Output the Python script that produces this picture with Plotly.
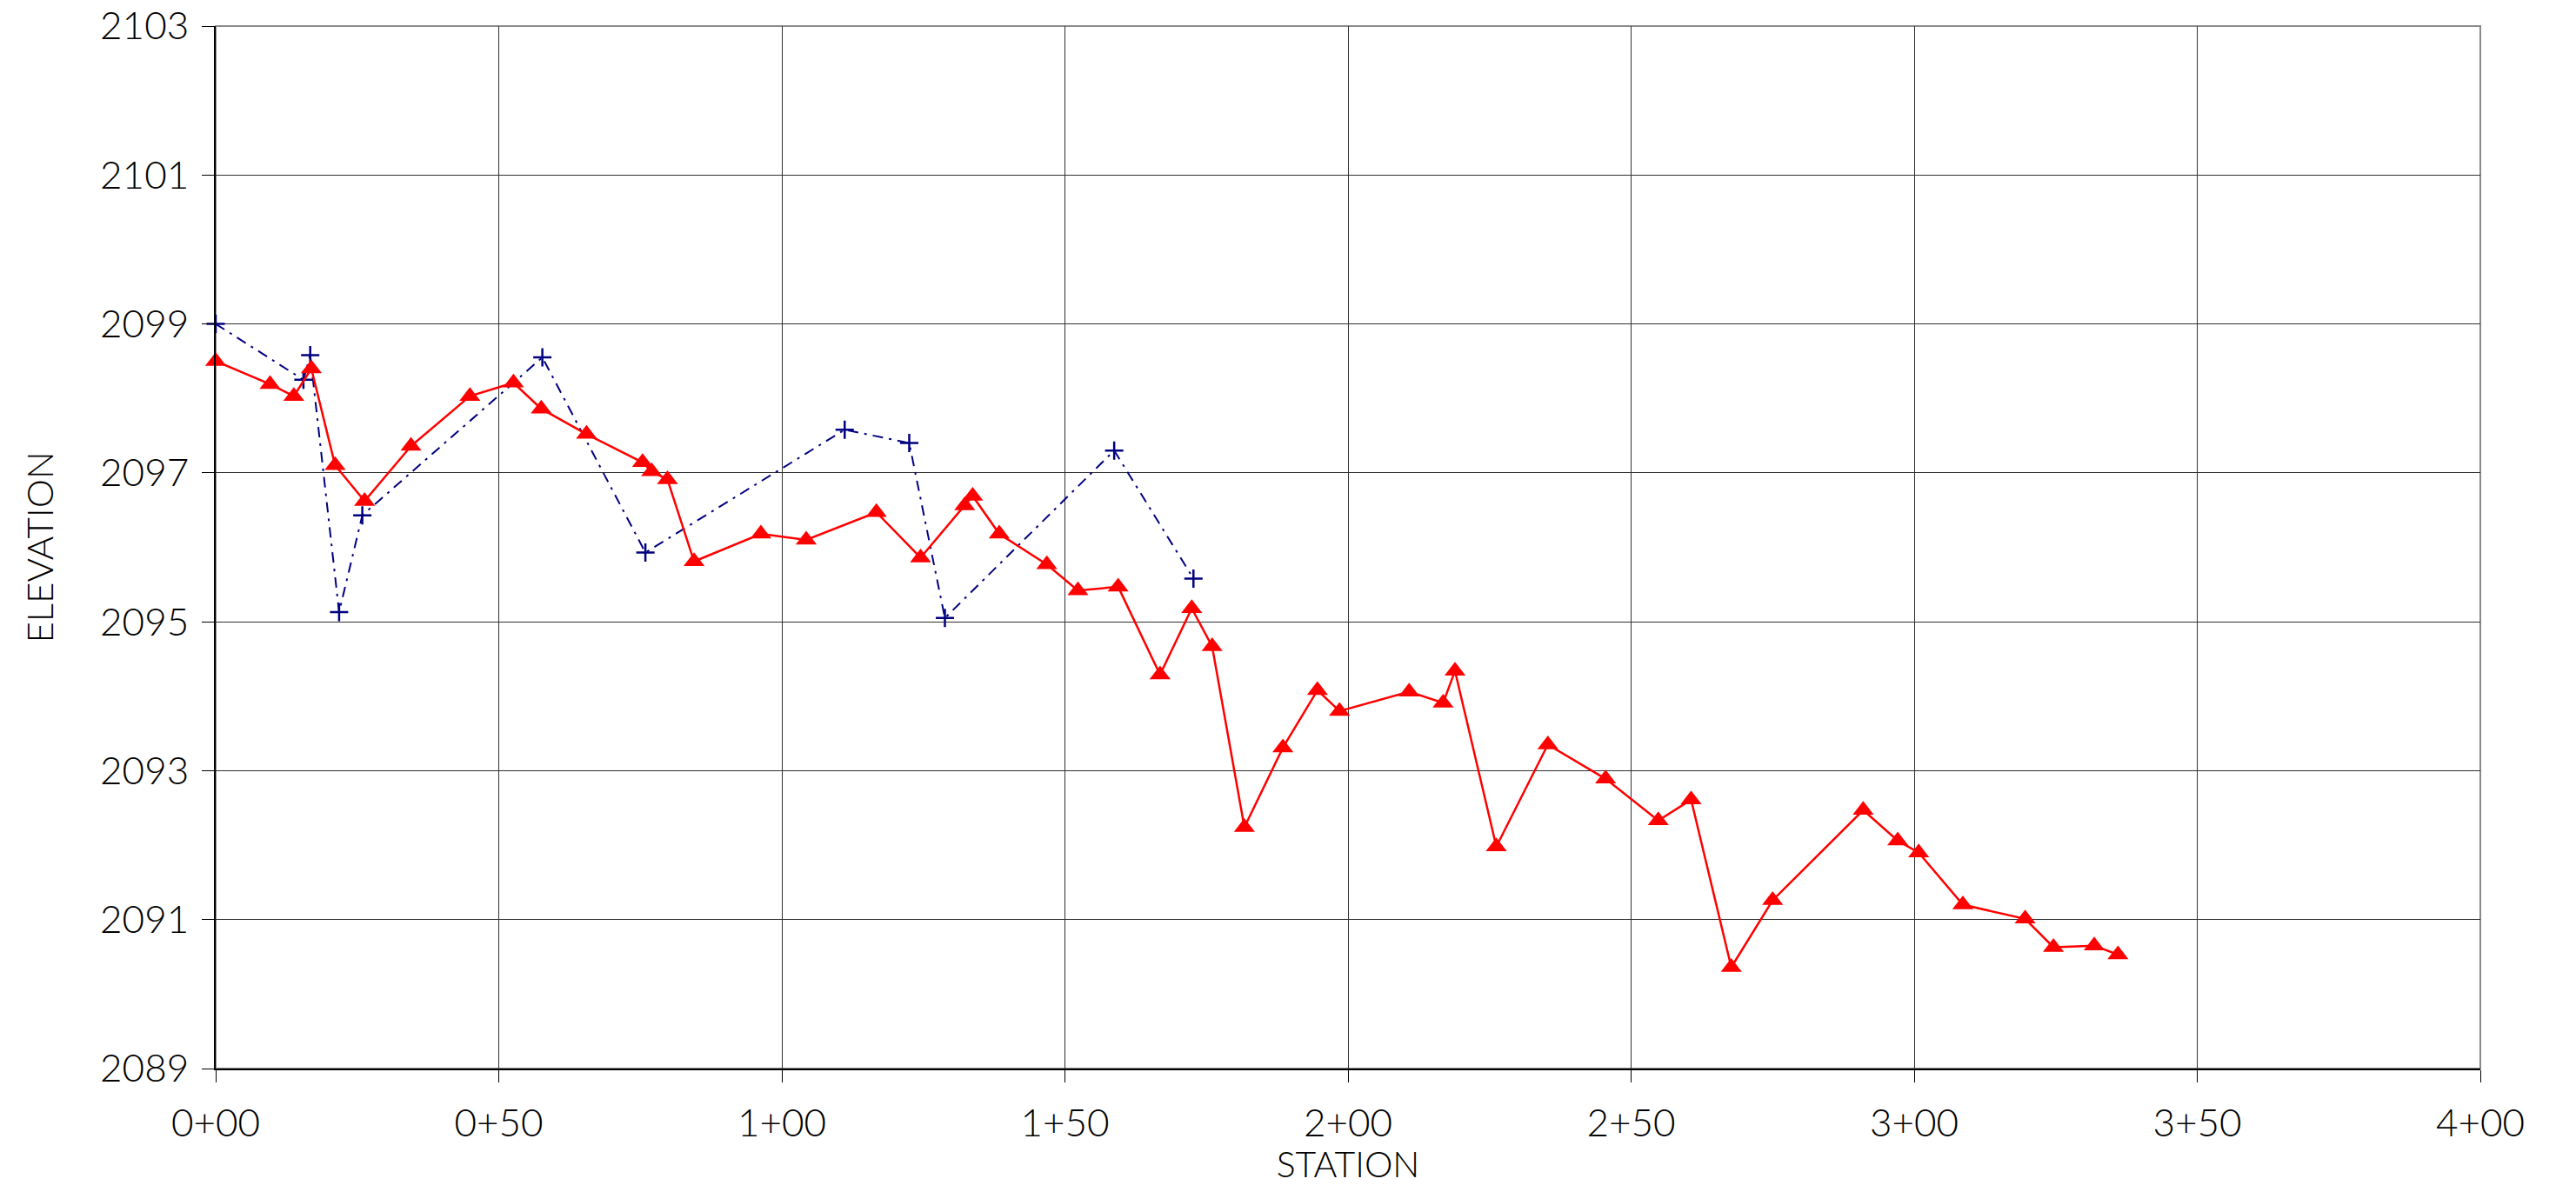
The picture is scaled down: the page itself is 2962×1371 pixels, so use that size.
import plotly.graph_objects as go

# Ground profile (red, triangles)
red_station = [0, 9.6, 13.8, 16.9, 21.1, 26.3, 34.5, 44.9, 52.6, 57.5, 65.5, 75.4, 77.0, 79.8,
               84.5, 96.3, 104.3, 116.7, 124.5, 132.3, 133.7, 138.4, 146.8, 152.3, 159.4, 166.8,
               172.4, 176.0, 181.7, 188.5, 194.6, 198.5, 210.8, 216.8, 218.9, 226.2, 235.3, 245.5,
               254.8, 260.6, 267.7, 275.0, 291.0, 297.1, 300.8, 308.6, 319.6, 324.6, 331.8, 336.0]
red_elev = [2098.50, 2098.19, 2098.03, 2098.40, 2097.10, 2096.62, 2097.36, 2098.03, 2098.21,
            2097.86, 2097.52, 2097.14, 2097.02, 2096.91, 2095.81, 2096.18, 2096.10, 2096.47,
            2095.86, 2096.56, 2096.69, 2096.18, 2095.77, 2095.42, 2095.47, 2094.29, 2095.18,
            2094.67, 2092.24, 2093.31, 2094.08, 2093.80, 2094.06, 2093.91, 2094.34, 2091.98,
            2093.35, 2092.89, 2092.33, 2092.61, 2090.36, 2091.26, 2092.47, 2092.06, 2091.90,
            2091.20, 2091.01, 2090.63, 2090.65, 2090.53]

# Second profile (navy, crosses)
blue_station = [0, 15.5, 16.7, 21.8, 25.9, 57.7, 75.9, 111.1, 122.5, 128.8, 158.7, 172.7]
blue_elev = [2099.00, 2098.25, 2098.58, 2095.13, 2096.43, 2098.55, 2095.93, 2097.58, 2097.40,
             2095.05, 2097.30, 2095.58]

x_ticks = [0, 50, 100, 150, 200, 250, 300, 350, 400]
x_tick_labels = ["0+00", "0+50", "1+00", "1+50", "2+00", "2+50", "3+00", "3+50", "4+00"]
y_ticks = [2089, 2091, 2093, 2095, 2097, 2099, 2101, 2103]

FONT = "Lato"

fig = go.Figure()
fig.add_trace(go.Scatter(
    x=blue_station, y=blue_elev, mode="lines+markers",
    line=dict(color="#000080", width=2, dash="12px,7px,3px,7px"),
    marker=dict(symbol="cross-thin", size=15, line=dict(color="#000080", width=2.5)),
    showlegend=False, cliponaxis=False))
fig.add_trace(go.Scatter(
    x=red_station, y=red_elev, mode="lines+markers",
    line=dict(color="#ff0000", width=2.5),
    marker=dict(symbol="triangle-up", size=21, color="#ff0000"),
    showlegend=False, cliponaxis=False))

fig.update_layout(
    width=2946, height=1355,
    margin=dict(l=240, r=102, t=22, b=134),
    paper_bgcolor="white", plot_bgcolor="white",
    font=dict(family=FONT, size=44, color="black", weight=300),
    shapes=[dict(type="rect", xref="paper", yref="paper", x0=0, y0=0, x1=1, y1=1,
                 line=dict(color="#8a8a8a", width=2), layer="below")],
)
fig.update_xaxes(
    range=[0, 400], tickmode="array", tickvals=x_ticks, ticktext=x_tick_labels,
    showgrid=True, gridcolor="#303030", gridwidth=1,
    showline=True, linecolor="black", linewidth=2,
    ticks="outside", ticklen=14, tickcolor="black", tickwidth=1,
    ticklabelstandoff=9, ticklabeloverflow="allow", zeroline=False, automargin=False,
    title=dict(text="STATION", font=dict(family=FONT, size=41, weight=300), standoff=29),
)
fig.update_yaxes(
    range=[2089, 2103], tickmode="array", tickvals=y_ticks,
    showgrid=True, gridcolor="#303030", gridwidth=1,
    showline=True, linecolor="black", linewidth=2,
    ticks="outside", ticklen=14, tickcolor="black", tickwidth=1,
    ticklabelstandoff=6, ticklabeloverflow="allow", zeroline=False, automargin=False,
    title=dict(text="ELEVATION", font=dict(family=FONT, size=42, weight=300), standoff=40),
)

fig.write_html("out.html")
